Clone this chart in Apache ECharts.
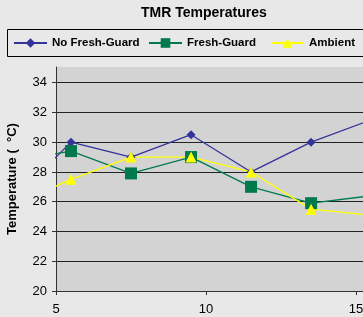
<!DOCTYPE html>
<html>
<head>
<meta charset="utf-8">
<script src="https://cdn.jsdelivr.net/npm/echarts@6/dist/echarts.min.js"></script>
<style>
  html, body { margin: 0; padding: 0; }
  #chart { width: 363px; height: 317px; }
</style>
</head>
<body>
<div id="chart"></div>
<script>
const days = [5.5, 7.5, 9.5, 11.5, 13.5, 15.5];
const noFreshGuard = [30, 29, 30.5, 28, 30, 31.5];
const freshGuard = [29.4, 27.9, 29, 27, 25.9, 26.4];
const ambient = [27.5, 29, 29, 28, 25.5, 25.1];
// the lines come in from the left, cut just before the axis
const cutDay = 4.77;
const cutValues = [28.53, 29.14, 26.85];
const seriesNames = ["No Fresh-Guard", "Fresh-Guard", "Ambient"];
const xTicks = [5, 10, 15];
const yTicks = [20, 22, 24, 26, 28, 30, 32, 34];

const colors = ["#333399", "#007a4d", "#ffff00"];
const symbols = ["diamond", "rect", "triangle"];
const symbolSizes = [9, 12, 11];
const legendLefts = [13, 148, 270];
const allValues = [noFreshGuard, freshGuard, ambient];

function pts(i) {
  const out = [{ value: [cutDay, cutValues[i]], symbol: "none" }];
  days.forEach((d, k) => out.push([d, allValues[i][k]]));
  return out;
}

const mc = echarts.init(document.getElementById("chart"));
const font = "Arial, 'Liberation Sans', sans-serif";

const option = {
  backgroundColor: "#e8e8e8",
  animation: false,
  title: {
    text: "TMR Temperatures",
    left: 141,
    top: 6,
    padding: 0,
    textStyle: { fontFamily: font, fontSize: 14, fontWeight: "bold", color: "#000" },
  },
  // one legend per item so each sits where it does in the picture
  legend: seriesNames.map((name, i) => ({
    data: [name],
    left: legendLefts[i],
    top: 37,
    padding: 0,
    itemWidth: 33,
    itemHeight: 12,
    textStyle: { fontFamily: font, fontSize: 11.5, fontWeight: "bold", color: "#000" },
  })),
  graphic: [
    {
      type: "rect",
      shape: { x: 7.5, y: 29.5, width: 400, height: 27 },
      style: { fill: "none", stroke: "#000", lineWidth: 1 },
      silent: true,
    },
  ],
  grid: {
    left: 56, right: 0, top: 67, bottom: 26,
    outerBoundsMode: "none",
    containLabel: false,
    show: true, backgroundColor: "#d3d3d3", borderWidth: 0,
  },
  xAxis: {
    type: "value",
    min: 5,
    max: 15.23,
    interval: 5,
    axisLine: { show: true, lineStyle: { color: "#333", width: 1 } },
    axisTick: { show: true, length: 4, lineStyle: { color: "#333" } },
    axisLabel: {
      fontFamily: font, fontSize: 13, color: "#000", margin: 12,
      showMaxLabel: false,
      formatter: (v) => (xTicks.includes(v) ? String(v) : ""),
    },
    splitLine: { show: false },
  },
  yAxis: {
    type: "value",
    min: 20,
    max: 35.05,
    interval: 2,
    name: "Temperature (  \u00b0C)",
    nameLocation: "middle",
    nameGap: 37,
    nameTextStyle: { fontFamily: font, fontSize: 13, fontWeight: "bold", color: "#000" },
    axisLine: { show: true, lineStyle: { color: "#333", width: 1 } },
    axisTick: { show: true, length: 4, lineStyle: { color: "#333" } },
    axisLabel: {
      fontFamily: font, fontSize: 13, color: "#000", margin: 9,
      showMaxLabel: false,
      formatter: (v) => (yTicks.includes(v) ? String(v) : ""),
    },
    splitLine: { show: true, showMaxLine: false, lineStyle: { color: "#222", width: 1 } },
  },
  series: seriesNames.map((name, i) => ({
    name,
    type: "line",
    data: pts(i),
    clip: false,
    symbol: symbols[i],
    symbolSize: symbolSizes[i],
    showAllSymbol: true,
    color: colors[i],
    lineStyle: { color: colors[i], width: 1.3 },
    itemStyle: { color: colors[i] },
  })),
};

mc.setOption(option);
</script>
</body>
</html>
